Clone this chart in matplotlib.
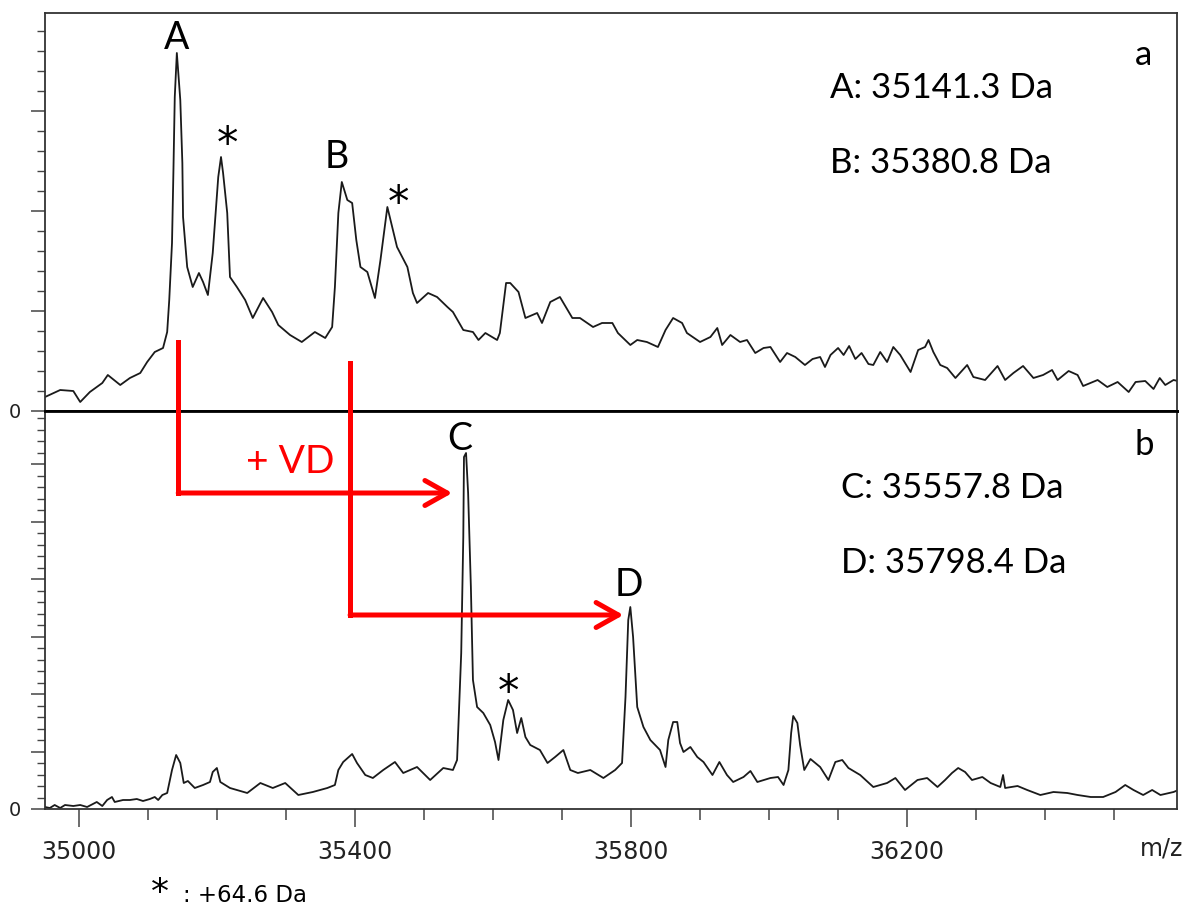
import matplotlib.pyplot as plt
from matplotlib.ticker import MultipleLocator, FixedLocator

# spectrum a (before reaction), m/z vs intensity (a.u.)
top_mz = [34951, 34973, 34992, 35002, 35016, 35034, 35042, 35060, 35074, 35089,
          35099, 35110, 35122, 35128, 35131, 35135, 35137, 35139, 35142, 35147,
          35150, 35151, 35157, 35165, 35174, 35180, 35187, 35194, 35202, 35206,
          35209, 35215, 35219, 35229, 35241, 35252, 35267, 35280, 35289, 35306,
          35323, 35342, 35357, 35367, 35371, 35376, 35381, 35389, 35396, 35402,
          35408, 35418, 35429, 35437, 35447, 35454, 35461, 35476, 35484, 35490,
          35506, 35519, 35534, 35542, 35557, 35571, 35579, 35589, 35606, 35610,
          35619, 35625, 35637, 35647, 35664, 35671, 35683, 35697, 35715, 35726,
          35745, 35758, 35773, 35781, 35799, 35809, 35823, 35839, 35850, 35861,
          35874, 35881, 35900, 35915, 35925, 35932, 35944,
          35958, 35968, 35980, 35992, 36002, 36016, 36026, 36038, 36052, 36063,
          36074, 36081, 36089, 36100, 36108, 36116, 36125, 36134, 36144, 36151,
          36161, 36171, 36180, 36190, 36205, 36216, 36226, 36231, 36238, 36248,
          36258, 36270, 36287, 36296, 36313, 36331, 36342, 36354, 36368, 36383,
          36397, 36410, 36418, 36434, 36447, 36455, 36476, 36490, 36505, 36521,
          36531, 36545, 36557, 36566, 36574, 36586, 36592]
top_int = [14, 21, 20, 9, 19, 28, 36, 26, 33, 38,
           49, 59, 63, 79, 111, 168, 238, 314, 358, 311,
           248, 194, 144, 124, 138, 129, 116, 158, 234, 254,
           238, 198, 134, 124, 111, 93, 113, 99, 86, 76,
           69, 79, 73, 84, 124, 198, 229, 211, 208, 171,
           144, 139, 113, 151, 204, 184, 164, 144, 118, 108,
           118, 114, 104, 99, 81, 79, 71, 78, 71, 78,
           128, 128, 119, 93, 98, 88, 109, 114, 93, 93,
           84, 88, 88, 78, 66, 71, 69, 64, 81, 93,
           88, 78, 69, 74, 83, 66, 76,
           69, 71, 58, 63, 64, 49, 58, 54, 46, 52,
           54, 44, 56, 63, 56, 65, 52, 58, 47, 46,
           59, 49, 64, 56, 39, 61, 64, 71, 59, 46,
           43, 33, 46, 34, 31, 45, 31, 38, 45, 33,
           36, 41, 31, 40, 36, 25, 31, 24, 29, 19,
           29, 30, 22, 33, 26, 31, 30]

# spectrum b (after reaction with VD)
bot_mz = [34951, 34958, 34965, 34973, 34980, 34992, 35002, 35012, 35026, 35034,
          35041, 35048, 35052, 35064, 35074, 35084, 35093, 35103, 35110, 35115,
          35121, 35128, 35135, 35141, 35147, 35152, 35158, 35168, 35180,
          35190, 35194, 35200, 35205, 35219, 35244, 35263, 35281, 35299, 35318,
          35339, 35360, 35371, 35376, 35383, 35396, 35403, 35415, 35426, 35441,
          35458, 35470, 35490, 35509, 35528, 35542, 35548, 35554, 35557, 35558,
          35561, 35564, 35568, 35571, 35577, 35586, 35596, 35603, 35608, 35615,
          35622, 35629, 35635, 35641, 35647, 35654, 35668, 35679, 35690, 35702,
          35712, 35723, 35741, 35760, 35777, 35787, 35792, 35796, 35799, 35803,
          35809, 35818, 35828, 35842, 35850, 35854, 35861, 35867, 35871, 35876,
          35886, 35896, 35905, 35918, 35928, 35939, 35948, 35963, 35973, 35983,
          36002, 36013, 36021, 36028, 36032, 36035, 36041, 36045, 36051, 36060,
          36074, 36086, 36096, 36106, 36115, 36132, 36151, 36171, 36183, 36197,
          36215, 36229, 36244, 36255, 36265, 36274, 36284, 36294, 36309, 36321,
          36335, 36339, 36342, 36360, 36374, 36393, 36412, 36432, 36447, 36466,
          36484, 36502, 36516, 36528, 36542, 36555, 36567, 36586, 36593]
bot_int = [2, 1, 4, 1, 4, 3, 4, 2, 7, 3,
           9, 12, 7, 9, 9, 10, 8, 10, 12, 9,
           14, 16, 39, 54, 46, 26, 28, 21, 24,
           27, 37, 41, 27, 21, 16, 26, 21, 26, 14,
           17, 21, 24, 39, 47, 55, 46, 34, 31, 39,
           47, 36, 42, 29, 41, 39, 49, 156, 272, 352,
           356, 316, 222, 129, 102, 96, 84, 67, 49, 89,
           109, 99, 76, 91, 72, 64, 59, 46, 52, 59,
           39, 36, 39, 31, 39, 46, 112, 189, 202, 172,
           102, 82, 69, 59, 42, 69, 87, 87, 66, 57,
           62, 52, 47, 34, 47, 34, 27, 32, 38, 27,
           31, 32, 24, 39, 76, 93, 86, 64, 39, 50,
           42, 29, 47, 49, 41, 34, 22, 26, 31, 19,
           29, 31, 22, 29, 36, 41, 37, 29, 32, 26,
           22, 34, 21, 23, 19, 14, 17, 16, 14, 12,
           12, 17, 24, 19, 14, 19, 14, 17, 19]

# labels
masses_a = ["A: 35141.3 Da", "B: 35380.8 Da"]
masses_b = ["C: 35557.8 Da", "D: 35798.4 Da"]
peak_a = [("A", 35142, 373), ("B", 35374, 254)]
peak_b = [("C", 35552, 370), ("D", 35797, 224)]
stars_a = [(35215, 254), (35463, 195)]
stars_b = [(35623, 104)]
# arrows: (x of start line, top of line, level, arrow tip)
shifts = [(35144, 467, 316, 35541), (35393, 446, 194, 35789)]
xticks_major = [35000, 35400, 35800, 36200]

lab_font = "Lato"
line_col = "#1a1a1a"

fig = plt.figure(figsize=(11.89, 9.08), dpi=100)
ax1 = fig.add_axes([45 / 1189, 1 - 411 / 908, 1132 / 1189, 398 / 908])
ax2 = fig.add_axes([45 / 1189, 1 - 809 / 908, 1132 / 1189, 398 / 908])

for ax in (ax1, ax2):
    ax.set_xlim(34951, 36591)
    ax.set_ylim(0, 398)
    for s in ax.spines.values():
        s.set_color("#333333")
        s.set_linewidth(1.3)
    ax.tick_params(axis="y", which="major", length=10, width=1.1, color="#444444",
                   labelsize=14, pad=7, labelcolor="#222222")
    ax.tick_params(axis="y", which="minor", length=6, width=1.0, color="#444444")

ax1.plot(top_mz, top_int, color=line_col, lw=1.3)
ax2.plot(bot_mz, bot_int, color=line_col, lw=1.3)

ax1.spines["bottom"].set_linewidth(2.0)
ax1.spines["bottom"].set_color("black")
ax2.spines["top"].set_linewidth(2.0)
ax2.spines["top"].set_color("black")

# y ticks: only 0 labelled
ax1.yaxis.set_major_locator(FixedLocator([0, 100, 200, 300]))
ax1.yaxis.set_minor_locator(MultipleLocator(20))
ax1.set_yticklabels(["0", "", "", ""])
ax2.yaxis.set_major_locator(FixedLocator([0, 57.5, 115, 172.5, 230, 287.5, 345]))
ax2.yaxis.set_minor_locator(MultipleLocator(11.5))
ax2.set_yticklabels(["0", "", "", "", "", "", ""])

ax1.tick_params(axis="x", which="both", bottom=False, labelbottom=False)
ax2.xaxis.set_major_locator(FixedLocator(xticks_major))
ax2.xaxis.set_minor_locator(MultipleLocator(100))
ax2.tick_params(axis="x", which="major", length=13, width=1.1, color="#444444",
                labelsize=17, pad=9, labelcolor="#222222")
ax2.tick_params(axis="x", which="minor", length=8, width=1.1, color="#444444")

# mass labels
for i, t in enumerate(masses_a):
    ax1.text(0.6935, [0.8116, 0.623][i], t, transform=ax1.transAxes, ha="left",
             va="center", fontsize=25, family=lab_font)
for i, t in enumerate(masses_b):
    ax2.text(0.703, [0.8065, 0.618][i], t, transform=ax2.transAxes, ha="left",
             va="center", fontsize=25, family=lab_font)
ax1.text(0.97, 0.894, "a", transform=ax1.transAxes, ha="center", va="center",
         fontsize=25, family=lab_font)
ax2.text(0.971, 0.915, "b", transform=ax2.transAxes, ha="center", va="center",
         fontsize=25, family=lab_font)

for ax, peaks, stars in ((ax1, peak_a, stars_a), (ax2, peak_b, stars_b)):
    for lab, x, y in peaks:
        ax.text(x, y, lab, ha="center", va="center", family=lab_font, fontsize=27)
    for x, y in stars:
        ax.text(x, y, "*", ha="center", va="baseline", family="DejaVu Sans",
                fontsize=31)

# red shift arrows
for x0, ytop, lvl, tip in shifts:
    ax2.plot([x0, x0], [ytop, lvl], color="red", lw=3.6, clip_on=False,
             solid_capstyle="projecting", zorder=5)
    ax2.annotate("", xy=(tip, lvl), xytext=(x0, lvl), annotation_clip=False,
                 arrowprops=dict(arrowstyle="->,head_length=0.8,head_width=0.45",
                                 color="red", lw=3.6, mutation_scale=20,
                                 shrinkA=0, shrinkB=0), zorder=5)
ax2.text(35306, 347, "+ VD", color="red", ha="center", va="center",
         fontsize=28, family=lab_font)

fig.text(0.995, 1 - 848 / 908, "m/z", ha="right", va="center", fontsize=17,
         color="#222222")
fig.text(160 / 1189, 1 - 903 / 908, "*", ha="center", va="baseline", fontsize=26)
fig.text(183 / 1189, 1 - 896 / 908, ": +64.6 Da", ha="left", va="center",
         fontsize=16.5)

fig.savefig("out.png", dpi=100)
